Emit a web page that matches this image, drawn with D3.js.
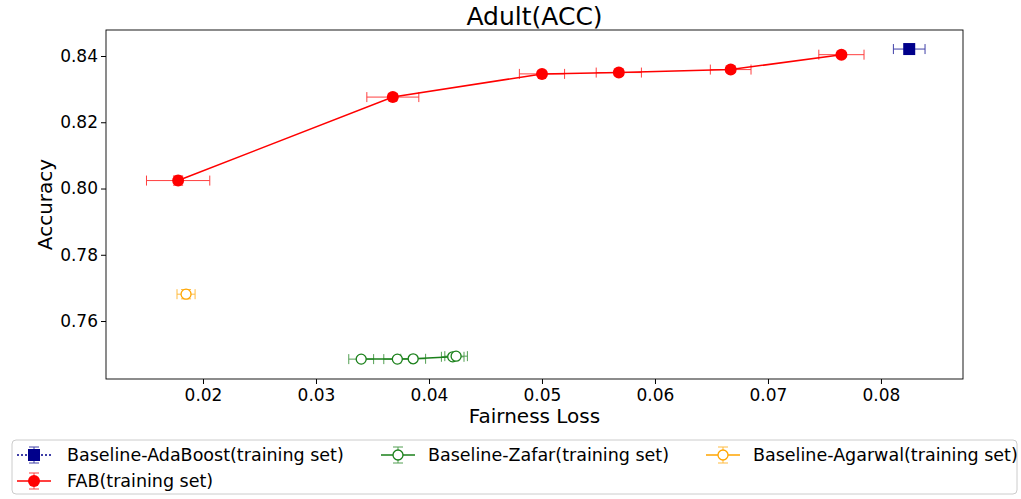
<!DOCTYPE html>
<html><head><meta charset="utf-8">
<script src="https://cdn.jsdelivr.net/npm/d3@7"></script>
<style>body{margin:0;background:#fff;font-family:"DejaVu Sans",sans-serif;}</style>
</head><body><svg id="c" width="1021" height="499"></svg>
<script>
const fabX = [0.0178, 0.0368, 0.0500, 0.0568, 0.0667, 0.0765];
const fabY = [0.8024, 0.8276, 0.8346, 0.8350, 0.8359, 0.8404];
const fabXErr = [0.0028, 0.0023, 0.0020, 0.0020, 0.0018, 0.0020];
const fabYErr = [0.0014, 0.0011, 0.0008, 0.0008, 0.0008, 0.0007];
const adaX = [0.0825];
const adaY = [0.8421];
const adaXErr = [0.0014];
const adaYErr = [0.0005];
const zafarX = [0.0340, 0.0372, 0.0386, 0.0421, 0.0424];
const zafarY = [0.7485, 0.7485, 0.7486, 0.7492, 0.7494];
const zafarXErr = [0.0011, 0.0012, 0.0011, 0.0010, 0.0010];
const zafarYErr = [0.0003, 0.0003, 0.0003, 0.0003, 0.0003];
const agaX = [0.0185];
const agaY = [0.7681];
const agaXErr = [0.0008];
const agaYErr = [0.0014];
const xTicks = [0.02, 0.03, 0.04, 0.05, 0.06, 0.07, 0.08];
const yTicks = [0.76, 0.78, 0.80, 0.82, 0.84];
const legendLabels = ["Baseline-AdaBoost(training set)", "Baseline-Zafar(training set)", "Baseline-Agarwal(training set)", "FAB(training set)"];

const svg = d3.select("#c");
const L = 106, R = 963, T = 30, B = 379;
const x = d3.scaleLinear().domain([0.011416, 0.08726]).range([L, R]);
const y = d3.scaleLinear().domain([0.7425, 0.84785]).range([B, T]);

// axes
svg.append("g").attr("transform", `translate(0,${B})`)
  .call(d3.axisBottom(x).tickValues(xTicks).tickFormat(d3.format(".2f")).tickSize(5).tickSizeOuter(0))
  .call(g => g.selectAll("text").attr("font-size", 17).attr("font-family", "DejaVu Sans").attr("fill", "#000").attr("y", 10).attr("dy", "0.71em"))
  .call(g => g.select(".domain").remove());
svg.append("g").attr("transform", `translate(${L},0)`)
  .call(d3.axisLeft(y).tickValues(yTicks).tickFormat(d3.format(".2f")).tickSize(5).tickSizeOuter(0))
  .call(g => g.selectAll("text").attr("font-size", 17).attr("font-family", "DejaVu Sans").attr("fill", "#000"))
  .call(g => g.select(".domain").remove());
svg.append("rect").attr("x", L).attr("y", T).attr("width", R - L).attr("height", B - T)
  .attr("fill", "none").attr("stroke", "#000").attr("stroke-width", 0.9);

svg.append("text").attr("x", (L + R) / 2).attr("y", 25).attr("text-anchor", "middle")
  .attr("font-size", 25).text("Adult(ACC)");
svg.append("text").attr("x", (L + R) / 2).attr("y", 423).attr("text-anchor", "middle")
  .attr("font-size", 20).text("Fairness Loss");
svg.append("text").attr("transform", `translate(52,${(T + B) / 2}) rotate(-90)`).attr("text-anchor", "middle")
  .attr("font-size", 20).text("Accuracy");

function series(xs, ys, xe, ye, color, opts) {
  const g = svg.append("g");
  const pts = xs.map((v, i) => ({ x: v, y: ys[i], xe: xe[i], ye: ye[i] }));
  const eb = g.append("g").attr("stroke", color).attr("stroke-width", 1).attr("opacity", 0.75);
  pts.forEach(p => {
    const cx = x(p.x), cy = y(p.y);
    eb.append("line").attr("x1", x(p.x - p.xe)).attr("x2", x(p.x + p.xe)).attr("y1", cy).attr("y2", cy);
    eb.append("line").attr("x1", x(p.x - p.xe)).attr("x2", x(p.x - p.xe)).attr("y1", cy - 5).attr("y2", cy + 5);
    eb.append("line").attr("x1", x(p.x + p.xe)).attr("x2", x(p.x + p.xe)).attr("y1", cy - 5).attr("y2", cy + 5);
    eb.append("line").attr("x1", cx).attr("x2", cx).attr("y1", y(p.y - p.ye)).attr("y2", y(p.y + p.ye));
    eb.append("line").attr("x1", cx - 5).attr("x2", cx + 5).attr("y1", y(p.y - p.ye)).attr("y2", y(p.y - p.ye));
    eb.append("line").attr("x1", cx - 5).attr("x2", cx + 5).attr("y1", y(p.y + p.ye)).attr("y2", y(p.y + p.ye));
  });
  if (pts.length > 1) {
    g.append("path").datum(pts).attr("fill", "none").attr("stroke", color).attr("stroke-width", 1.5)
      .attr("stroke-dasharray", opts.dash || null)
      .attr("d", d3.line().x(d => x(d.x)).y(d => y(d.y)));
  }
  pts.forEach(p => drawMarker(g, x(p.x), y(p.y), color, opts));
}
function drawMarker(g, cx, cy, color, opts) {
  if (opts.shape === "square") {
    g.append("rect").attr("x", cx - 6).attr("y", cy - 6).attr("width", 12).attr("height", 12).attr("fill", color);
  } else if (opts.open) {
    g.append("circle").attr("cx", cx).attr("cy", cy).attr("r", 5).attr("fill", "#fff").attr("stroke", color).attr("stroke-width", 1.3);
  } else {
    g.append("circle").attr("cx", cx).attr("cy", cy).attr("r", 6).attr("fill", color);
  }
}

series(adaX, adaY, adaXErr, adaYErr, "#00008b", { shape: "square", dash: "2,2" });
series(fabX, fabY, fabXErr, fabYErr, "#ff0000", {});
series(zafarX, zafarY, zafarXErr, zafarYErr, "#1a801a", { open: true });
series(agaX, agaY, agaXErr, agaYErr, "#ffa500", { open: true });

// legend
const lg = svg.append("g");
lg.append("rect").attr("x", 12).attr("y", 440).attr("width", 1005).attr("height", 54).attr("rx", 4)
  .attr("fill", "#fff").attr("stroke", "#ccc");
const items = [
  { label: legendLabels[0], color: "#00008b", opts: { shape: "square", dash: "2,2" }, cx: 34, tx: 67, ly: 455 },
  { label: legendLabels[1], color: "#1a801a", opts: { open: true }, cx: 398, tx: 428, ly: 455 },
  { label: legendLabels[2], color: "#ffa500", opts: { open: true }, cx: 723, tx: 753, ly: 455 },
  { label: legendLabels[3], color: "#ff0000", opts: {}, cx: 34, tx: 67, ly: 481 }
];
items.forEach(it => {
  const cx = it.cx, cy = it.ly;
  const eg = lg.append("g").attr("stroke", it.color).attr("opacity", 0.75);
  eg.append("line").attr("x1", cx).attr("x2", cx).attr("y1", cy - 8).attr("y2", cy + 8);
  eg.append("line").attr("x1", cx - 5).attr("x2", cx + 5).attr("y1", cy - 8).attr("y2", cy - 8);
  eg.append("line").attr("x1", cx - 5).attr("x2", cx + 5).attr("y1", cy + 8).attr("y2", cy + 8);
  lg.append("line").attr("x1", cx - 17).attr("x2", cx + 17).attr("y1", cy).attr("y2", cy)
    .attr("stroke", it.color).attr("stroke-width", 1.5).attr("stroke-dasharray", it.opts.dash || null);
  drawMarker(lg, cx, cy, it.color, it.opts);
  lg.append("text").attr("x", it.tx).attr("y", cy + 6).attr("font-size", 17.5).text(it.label);
});
</script></body></html>
